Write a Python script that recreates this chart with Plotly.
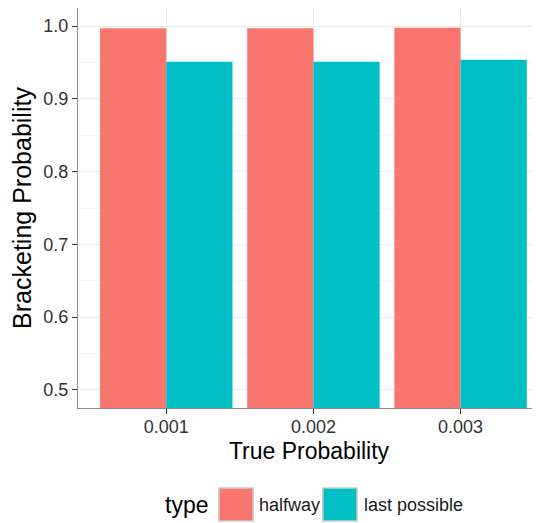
import plotly.graph_objects as go

categories = ["0.001", "0.002", "0.003"]
halfway = [0.997, 0.997, 0.998]
last_possible = [0.951, 0.951, 0.954]
series_names = ["halfway", "last possible"]
series_colors = ["#F8766D", "#00BFC4"]
y_ticks = [0.5, 0.6, 0.7, 0.8, 0.9, 1.0]
y_tick_labels = ["0.5", "0.6", "0.7", "0.8", "0.9", "1.0"]

fig = go.Figure()
for name, vals, col in zip(series_names, [halfway, last_possible], series_colors):
    fig.add_trace(go.Bar(x=categories, y=vals, name=name, showlegend=False,
                         marker=dict(color=col, line=dict(width=0))))

font_family = "Liberation Sans, Arial, sans-serif"

# manual ggplot-style legend (large keys) below the plot
legend_keys_x = [(0.305, 0.379), (0.530, 0.604)]
legend_text_x = [0.387, 0.615]
shapes = []
annotations = [dict(text="type", x=0.286, y=-0.2425, xref="paper", yref="paper",
                    xanchor="right", yanchor="middle", showarrow=False,
                    font=dict(size=23, color="#000", family=font_family))]
for (x0, x1), tx, name, col in zip(legend_keys_x, legend_text_x, series_names, series_colors):
    shapes.append(dict(type="rect", xref="paper", yref="paper", x0=x0, x1=x1,
                       y0=-0.2825, y1=-0.2, fillcolor=col,
                       line=dict(color="#cccccc", width=1.5)))
    annotations.append(dict(text=name, x=tx, y=-0.2425, xref="paper", yref="paper",
                            xanchor="left", yanchor="middle", showarrow=False,
                            font=dict(size=18, color="#1a1a1a", family=font_family)))

fig.update_layout(
    width=532, height=515,
    margin=dict(l=70, r=0, t=0, b=115),
    barmode="group", bargap=0.1, bargroupgap=0,
    plot_bgcolor="white", paper_bgcolor="white",
    font=dict(family=font_family, color="#1a1a1a"),
    shapes=shapes, annotations=annotations,
)
fig.update_xaxes(
    type="category", range=[-0.6, 2.54],
    showline=True, linecolor="#8c8c8c", linewidth=1.2, mirror=True,
    ticks="outside", ticklen=5, tickcolor="#333", tickwidth=1,
    tickfont=dict(size=18, color="#333"), ticklabelstandoff=-3,
    showgrid=True, gridcolor="#ebebeb", gridwidth=1,
    title=dict(text="True Probability", font=dict(size=23, color="#000"), standoff=7),
)
fig.update_yaxes(
    range=[0.475, 1.025],
    tickvals=y_ticks, ticktext=y_tick_labels,
    showline=True, linecolor="#8c8c8c", linewidth=1.2,
    ticks="outside", ticklen=5, tickcolor="#333", tickwidth=1,
    tickfont=dict(size=18, color="#333"),
    showgrid=True, gridcolor="#ebebeb", gridwidth=1,
    minor=dict(dtick=0.1, tick0=0.55, showgrid=True, gridcolor="#f5f5f5", gridwidth=1, ticks=""),
    zeroline=False,
    title=dict(text="Bracketing Probability", font=dict(size=25, color="#000"), standoff=6),
)
fig.write_html("out.html")
